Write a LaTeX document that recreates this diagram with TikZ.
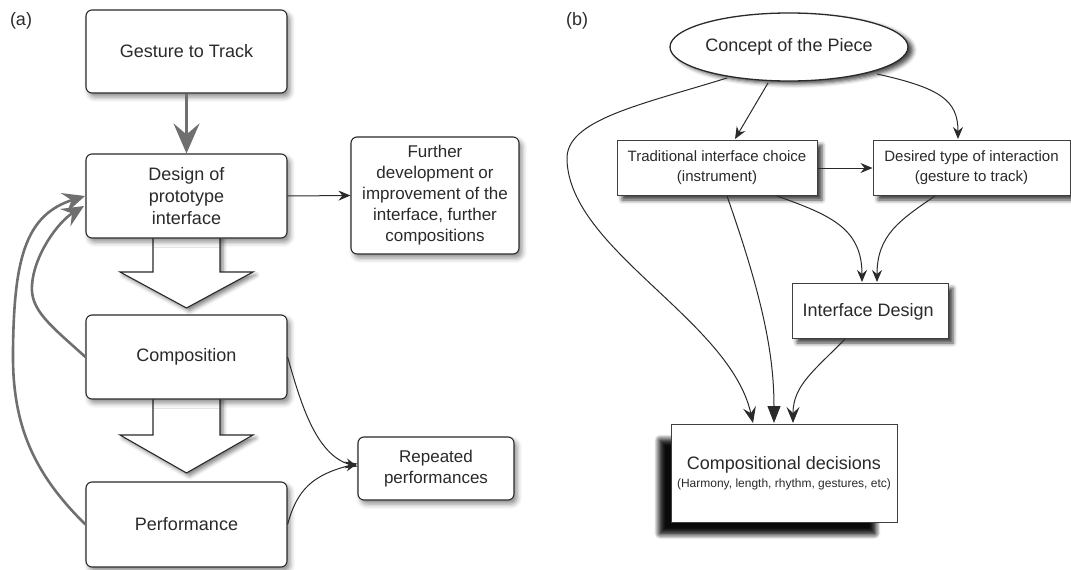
\documentclass[tikz,border=0pt]{standalone}
\usepackage{fontspec}
\setmainfont{Liberation Sans}
\usetikzlibrary{arrows.meta,shapes.geometric,shadows.blur}

\definecolor{edge}{HTML}{2A2A2A}
\definecolor{loopgray}{HTML}{6F6F70}

\tikzset{
  txt/.style={font=\fontsize{18}{22}\selectfont, align=center, text=edge},
  roundbox/.style={txt, draw=edge, line width=1.1pt, fill=white, rounded corners=6pt,
    inner sep=0pt,
    blur shadow={shadow xshift=3pt, shadow yshift=-4pt, shadow blur radius=5pt, shadow opacity=45}},
  flatbox/.style={txt, draw=edge!90!white, line width=1pt, fill=white, inner sep=0pt,
    blur shadow={shadow xshift=5pt, shadow yshift=-5pt, shadow blur radius=4pt, shadow opacity=75}},
  bigshadow/.style={blur shadow={shadow xshift=-17.5pt, shadow yshift=-14.5pt, shadow scale=0.95,
    shadow blur radius=6pt, shadow blur steps=8, shadow opacity=80}},
  panel/.style={font=\fontsize{18}{22}\selectfont, text=edge},
  greyarrow/.style={draw=loopgray, line width=3pt,
    -{Stealth[length=30pt, width=26pt, inset=11pt]}},
  greyloop/.style={draw=loopgray, line width=2.6pt,
    -{Stealth[length=22pt, width=20pt, inset=8pt]}},
  thin/.style={draw=edge, line width=1pt, -{Stealth[length=12pt, width=10pt, inset=4pt]}},
  thinbig/.style={draw=edge, line width=1pt, -{Stealth[length=16pt, width=13pt, inset=6pt]}},
  filledhead/.style={draw=edge, line width=1pt, -{Triangle[length=17pt, width=13pt]}},
  blockarrow/.style={draw=edge, line width=1.1pt, fill=white, line join=miter,
    blur shadow={shadow xshift=3pt, shadow yshift=-3pt, shadow blur radius=4pt, shadow opacity=50}}
}

\begin{document}
\begin{tikzpicture}[x=1pt, y=-1pt]
\useasboundingbox (0,0) rectangle (1071,570);

% ---------------- panel (a) ----------------
\node[panel] (labela) at (21,21) {(a)};

% block arrows between the stages (drawn first so the boxes sit on top)
\filldraw[blockarrow] (153,236) -- (153,272) -- (120,272) -- (186.5,308) -- (253,272) -- (220,272) -- (220,236);
\filldraw[blockarrow] (153,397) -- (153,435) -- (120,435) -- (186.5,473) -- (253,435) -- (220,435) -- (220,397);

\node[roundbox, minimum width=201pt, minimum height=83pt] (gesture) at (186.5,51.5) {Gesture to Track};
\node[roundbox, minimum width=201pt, minimum height=84pt] (design) at (186.5,196) {Design of\\prototype\\interface};
\node[roundbox, minimum width=201pt, minimum height=84pt] (composition) at (186.5,357) {Composition};
\node[roundbox, minimum width=201pt, minimum height=85pt] (performance) at (186.5,524.5) {Performance};
\node[roundbox, font=\fontsize{17}{21}\selectfont, minimum width=168pt, minimum height=117pt] (further) at (435,195.5)
  {Further\\development or\\improvement of the\\interface, further\\compositions};
\node[roundbox, font=\fontsize{17}{21}\selectfont, minimum width=156pt, minimum height=63pt] (repeated) at (436,468.5)
  {Repeated\\performances};

\draw[greyarrow] (gesture.south) -- (design.north);

\coordinate (loopinA) at (84,206);
\coordinate (loopinB) at (85,196);
\draw[greyloop] (composition.west) .. controls (50,325) and (30,310) .. (32,285)
  .. controls (34,255) and (58,222) .. (loopinA);
\draw[greyloop] (performance.west) .. controls (30,470) and (12,420) .. (13,350)
  .. controls (14,260) and (25,215) .. (loopinB);

\draw[thin] (design.east) -- (further.west);
\draw[thin] (composition.east) .. controls (300,400) and (315,455) .. ([yshift=2pt]repeated.west);
\draw[thin] (performance.east) .. controls (297,490) and (312,475) .. ([yshift=5pt]repeated.west);

% ---------------- panel (b) ----------------
\node[panel] (labelb) at (577,21) {(b)};

\node[ellipse, txt, draw=edge, line width=1.3pt, fill=white, minimum width=238pt, minimum height=68pt, inner sep=0pt,
  blur shadow={shadow xshift=5pt, shadow yshift=-3pt, shadow blur radius=4pt, shadow opacity=70}]
  (concept) at (789,47) {Concept of the Piece};

\node[flatbox, font=\fontsize{15}{20}\selectfont, minimum width=200pt, minimum height=55pt] (trad) at (717,167.5)
  {Traditional interface choice\\(instrument)};
\node[flatbox, font=\fontsize{15}{20}\selectfont, minimum width=197pt, minimum height=55pt] (desired) at (971.5,167.5)
  {Desired type of interaction\\(gesture to track)};
\node[flatbox, minimum width=156pt, minimum height=55pt] (iface) at (870,310.5) {};
\node[txt, anchor=west] (ifacetext) at (799,311.5) {Interface Design};
\node[flatbox, bigshadow, minimum width=226pt, minimum height=98pt] (decisions) at (784,473)
  {Compositional decisions\\[-4pt]{\fontsize{12}{14}\selectfont (Harmony, length, rhythm, gestures, etc)}};

\draw[thin] (768,83) -- (735,139);
\draw[thin] (877,74) .. controls (940,88) and (958,100) .. (958,139);
\draw[thin] (trad.east |- 0,168) -- (desired.west |- 0,168);
\draw[thin] (777,196) .. controls (830,215) and (862,228) .. (862,282);
\draw[thin] (935,196) .. controls (900,220) and (877,235) .. (877,282);

\draw[thinbig] (727,78) .. controls (640,105) and (565,120) .. (567,160)
  .. controls (570,250) and (730,320) .. (753,423);
\draw[filledhead] (727,196) .. controls (760,290) and (774,350) .. (774,423);
\draw[thinbig] (845,339) .. controls (815,370) and (793,385) .. (793,423);

\end{tikzpicture}
\end{document}
